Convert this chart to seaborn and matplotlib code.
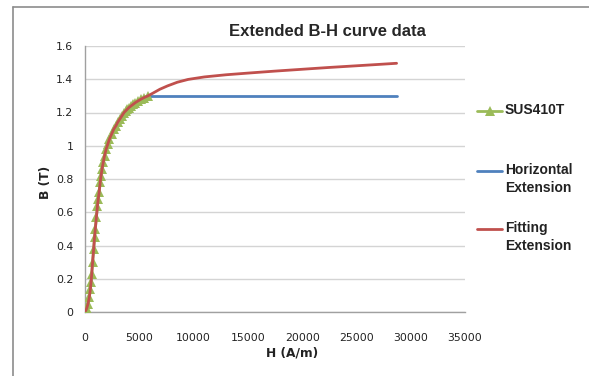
import matplotlib
matplotlib.use("Agg")
import numpy as np
import pandas as pd
import matplotlib.pyplot as plt
import seaborn as sns
from matplotlib.lines import Line2D

# measured B-H points (SUS410T)
h_meas = [0, 150, 280, 400, 500, 560, 620, 700, 800, 880, 950, 1050, 1150, 1220,
          1300, 1400, 1480, 1570, 1680, 1800, 1950, 2100, 2250, 2450, 2650, 2850,
          3000, 3200, 3400, 3600, 3750, 3900, 4050, 4250, 4450, 4650, 4900, 5150,
          5450, 5800]
b_meas = [0.00, 0.02, 0.05, 0.09, 0.14, 0.18, 0.23, 0.30, 0.38, 0.45, 0.50, 0.57,
          0.64, 0.68, 0.72, 0.78, 0.82, 0.86, 0.90, 0.94, 0.98, 1.01, 1.04, 1.07,
          1.10, 1.12, 1.14, 1.16, 1.18, 1.20, 1.21, 1.22, 1.23, 1.24, 1.25, 1.26,
          1.27, 1.28, 1.29, 1.30]

# horizontal extension
h_horiz = [5800, 28700]
b_horiz = [1.30, 1.30]

# fitting extension (follows the measured curve, then extrapolates)
h_fit_ext = [6300, 6900, 7600, 8500, 9500, 11000, 13000, 15000, 17500, 20000, 22500,
             25000, 27000, 28700]
b_fit_ext = [1.318, 1.340, 1.360, 1.382, 1.399, 1.414, 1.427, 1.437, 1.449, 1.460,
             1.471, 1.481, 1.489, 1.496]

labels = ["SUS410T", "Horizontal\nExtension", "Fitting\nExtension"]
colors = ["#9BBB59", "#4F81BD", "#C0504D"]

meas = pd.DataFrame({"H": h_meas, "B": b_meas})
horiz = pd.DataFrame({"H": h_horiz, "B": b_horiz})
fit = pd.DataFrame({"H": h_meas + h_fit_ext, "B": b_meas + b_fit_ext})

sns.set_style("white")
plt.rcParams["font.family"] = ["DejaVu Sans"]

W, H = 589, 376
fig = plt.figure(figsize=(W / 100, H / 100), dpi=100)
ax = fig.add_axes([85 / W, 1 - 312 / H, 380 / W, 266 / H])

# chart area border: only left and top edges fall inside the image
fig.lines.append(Line2D([12.5 / W, 12.5 / W], [0, 1 - 7 / H], transform=fig.transFigure,
                        color="#8c8c8c", lw=1.2))
fig.lines.append(Line2D([12.5 / W, 1], [1 - 7 / H, 1 - 7 / H], transform=fig.transFigure,
                        color="#8c8c8c", lw=1.2))

sns.lineplot(data=meas, x="H", y="B", ax=ax, color=colors[0], lw=2, marker="^",
             markersize=7, markeredgewidth=0, sort=False, zorder=3)
sns.lineplot(data=horiz, x="H", y="B", ax=ax, color=colors[1], lw=2, sort=False, zorder=2)
sns.lineplot(data=fit, x="H", y="B", ax=ax, color=colors[2], lw=2, sort=False, zorder=4)

ax.set_xlim(0, 35000)
ax.set_ylim(0, 1.6)
ax.set_xticks(np.arange(0, 35001, 5000))
ax.set_yticks([0, 0.2, 0.4, 0.6, 0.8, 1.0, 1.2, 1.4, 1.6])
ax.set_yticklabels(["0", "0.2", "0.4", "0.6", "0.8", "1", "1.2", "1.4", "1.6"])
ax.yaxis.grid(True, color="#d4d4d4", lw=1)
ax.xaxis.grid(False)
for s in ["top", "right"]:
    ax.spines[s].set_visible(False)
for s in ["left", "bottom"]:
    ax.spines[s].set_color("#a0a0a0")
    ax.spines[s].set_linewidth(1)
ax.tick_params(axis="x", direction="in", length=4, color="#a0a0a0", pad=15,
               labelsize=7.8, labelcolor="#222222")
ax.tick_params(axis="y", length=0, pad=8.5, labelsize=7.8, labelcolor="#222222")

ax.set_xlabel("H (A/m)", fontsize=8.8, fontweight="bold", color="#222222")
ax.set_ylabel("B (T)", fontsize=8.8, fontweight="bold", color="#222222")
ax.xaxis.set_label_coords((292.5 - 85) / 380, (312 - 347) / 266)
ax.yaxis.set_label_coords((52 - 85) / 380, (312 - 182) / 266)

fig.text(327.5 / W, 1 - 31 / H, "Extended B-H curve data", ha="center", va="center",
         fontsize=12, fontweight="bold", family="Liberation Sans")

# legend at right
legend_y = [111, 171, 229]
for lab, col, y in zip(labels, colors, legend_y):
    yf = 1 - y / H
    fig.lines.append(Line2D([477 / W, 502 / W], [yf, yf], transform=fig.transFigure,
                            color=col, lw=2))
    if lab == "SUS410T":
        fig.lines.append(Line2D([489.5 / W], [yf], transform=fig.transFigure,
                                color=col, marker="^", markersize=7, markeredgewidth=0))
    for i, line in enumerate(lab.split("\n")):
        fig.text(505 / W, 1 - (y - 1 + i * 18) / H, line, ha="left", va="center",
                 fontsize=10, fontweight="bold", family="Liberation Sans", color="#222222")

fig.savefig("out.png", dpi=100)
